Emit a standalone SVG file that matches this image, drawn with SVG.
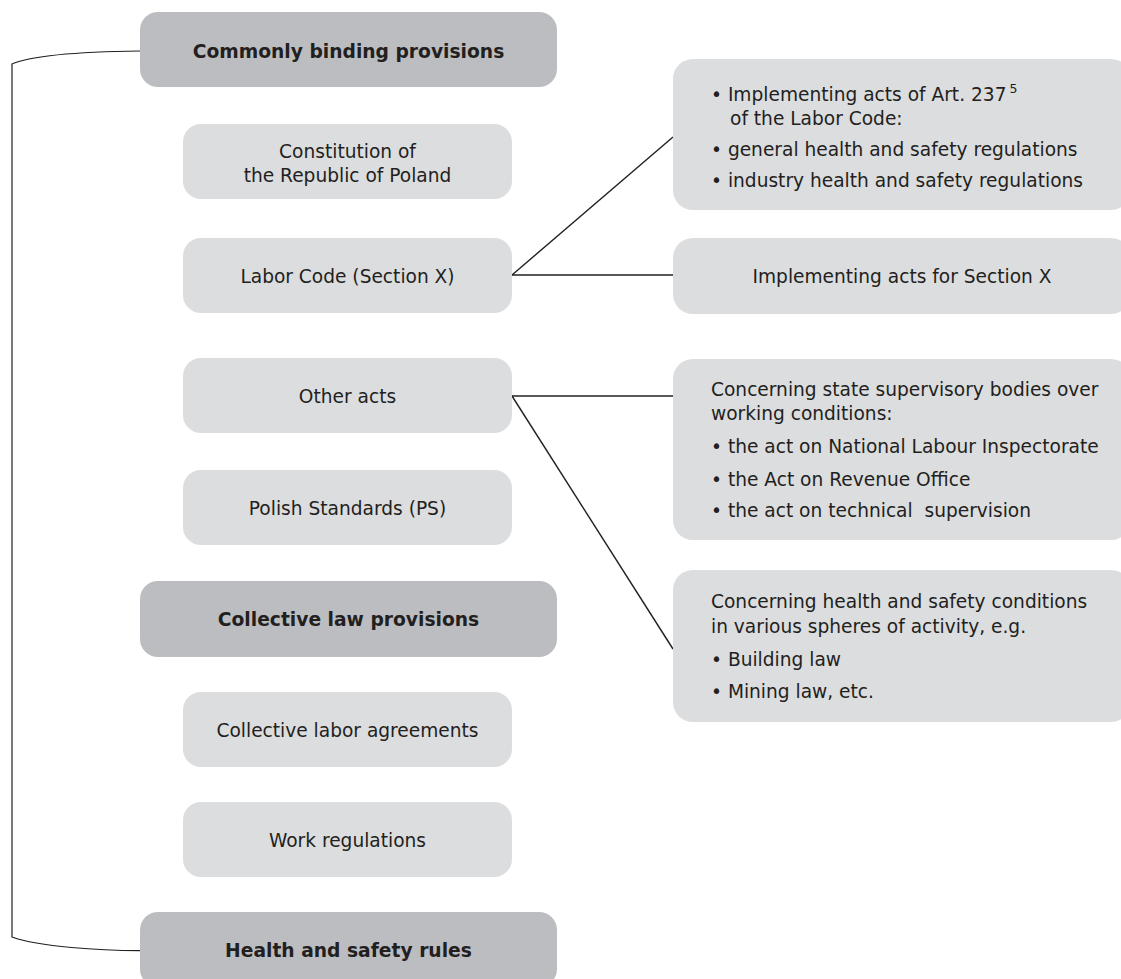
<svg xmlns="http://www.w3.org/2000/svg" width="1121" height="979" viewBox="0 0 1121 979">
  <style>
    .head { fill: #bcbdc0; }
    .item { fill: #dcdddf; }
    .t { font-family: "DejaVu Sans", Verdana, sans-serif; font-size: 18.6px; fill: #231f20; }
    .c { text-anchor: middle; }
    .b { font-weight: bold; font-size: 18.7px; }
    .link { fill: none; stroke: #231f20; stroke-width: 1.4; }
    .brace { fill: none; stroke: #231f20; stroke-width: 1.2; }
  </style>

  <rect width="1121" height="979" fill="#ffffff"/>

  <!-- connectors -->
  <g id="connectors">
    <path class="brace" d="M140,51 C100,51.5 35,54 12,64 V937 C40,947 100,950.5 140,950.7"/>
    <line class="link" x1="512" y1="275" x2="673" y2="137"/>
    <line class="link" x1="512" y1="275" x2="673" y2="275"/>
    <line class="link" x1="512" y1="396" x2="673" y2="396"/>
    <line class="link" x1="512" y1="396" x2="673" y2="649"/>
  </g>

  <!-- left column -->
  <g id="commonly-binding">
    <rect class="head" x="140" y="12" width="417" height="75" rx="18"/>
    <text class="t c b" x="348.5" y="58">Commonly binding provisions</text>
  </g>
  <g id="constitution">
    <rect class="item" x="183" y="124" width="329" height="75" rx="18"/>
    <text class="t c" x="347.5" y="158">Constitution of</text>
    <text class="t c" x="347.5" y="182">the Republic of Poland</text>
  </g>
  <g id="labor-code">
    <rect class="item" x="183" y="238" width="329" height="75" rx="18"/>
    <text class="t c" x="347.5" y="283">Labor Code (Section X)</text>
  </g>
  <g id="other-acts">
    <rect class="item" x="183" y="358" width="329" height="75" rx="18"/>
    <text class="t c" x="347.5" y="403">Other acts</text>
  </g>
  <g id="polish-standards">
    <rect class="item" x="183" y="470" width="329" height="75" rx="18"/>
    <text class="t c" x="347.5" y="515">Polish Standards (PS)</text>
  </g>
  <g id="collective-law">
    <rect class="head" x="140" y="581" width="417" height="76" rx="18"/>
    <text class="t c b" x="348.5" y="626">Collective law provisions</text>
  </g>
  <g id="collective-agreements">
    <rect class="item" x="183" y="692" width="329" height="75" rx="18"/>
    <text class="t c" x="347.5" y="737">Collective labor agreements</text>
  </g>
  <g id="work-regulations">
    <rect class="item" x="183" y="802" width="329" height="75" rx="18"/>
    <text class="t c" x="347.5" y="847">Work regulations</text>
  </g>
  <g id="hs-rules">
    <rect class="head" x="140" y="912" width="417" height="75" rx="18"/>
    <text class="t c b" x="348.5" y="957">Health and safety rules</text>
  </g>

  <!-- right column -->
  <g id="implementing-237">
    <rect class="item" x="673" y="59" width="458" height="151" rx="20"/>
    <text class="t" x="711" y="101">• Implementing acts of Art. 237<tspan font-size="12.5" dx="3" dy="-8">5</tspan></text>
    <text class="t" x="730" y="125">of the Labor Code:</text>
    <text class="t" x="711" y="156">• general health and safety regulations</text>
    <text class="t" x="711" y="187">• industry health and safety regulations</text>
  </g>
  <g id="implementing-section-x">
    <rect class="item" x="673" y="238" width="458" height="76" rx="20"/>
    <text class="t c" x="902" y="283">Implementing acts for Section X</text>
  </g>
  <g id="supervisory-bodies">
    <rect class="item" x="673" y="359" width="458" height="181" rx="20"/>
    <text class="t" x="711" y="396">Concerning state supervisory bodies over</text>
    <text class="t" x="711" y="420">working conditions:</text>
    <text class="t" x="711" y="453">• the act on National Labour Inspectorate</text>
    <text class="t" x="711" y="486">• the Act on Revenue Office</text>
    <text class="t" x="711" y="517" xml:space="preserve">• the act on technical  supervision</text>
  </g>
  <g id="spheres-of-activity">
    <rect class="item" x="673" y="570" width="458" height="152" rx="20"/>
    <text class="t" x="711" y="608">Concerning health and safety conditions</text>
    <text class="t" x="711" y="633">in various spheres of activity, e.g.</text>
    <text class="t" x="711" y="666">• Building law</text>
    <text class="t" x="711" y="698">• Mining law, etc.</text>
  </g>
</svg>
